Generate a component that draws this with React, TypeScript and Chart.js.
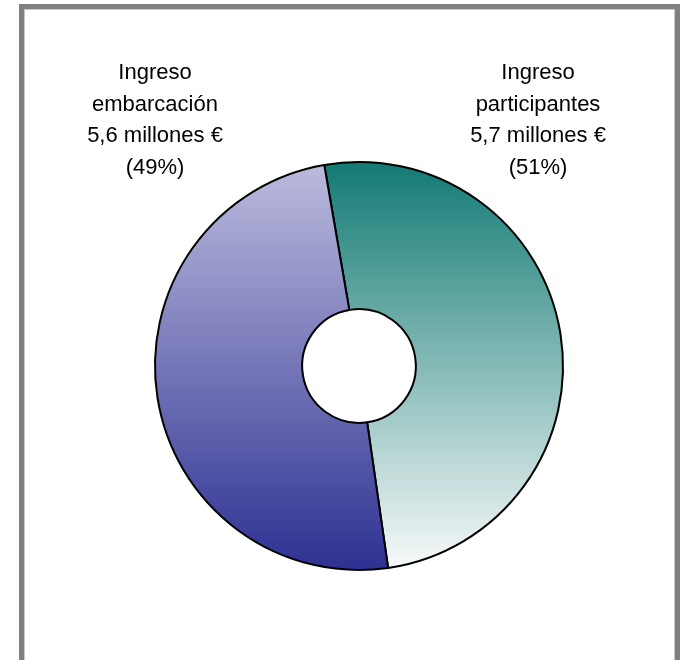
import React, { useEffect, useRef } from "react";
import Chart from "chart.js/auto";

const categories = ["Ingreso participantes", "Ingreso embarcación"];
const values = [5.7, 5.6];
const labelLines = [
  ["Ingreso", "participantes", "5,7 millones €", "(51%)"],
  ["Ingreso", "embarcación", "5,6 millones €", "(49%)"],
];
const gradientStops = [
  ["#137a74", "#f8fafa"],
  ["#bcbcde", "#2e3192"],
];

const OUTER_R = 204;
const INNER_R = 61;
const CANVAS = 440;
const CX = 359;
const CY = 366;

export default function App() {
  const ref = useRef<HTMLCanvasElement | null>(null);

  useEffect(() => {
    if (!ref.current) return;
    const chart = new Chart(ref.current, {
      type: "doughnut",
      data: {
        labels: categories,
        datasets: [
          {
            data: values,
            backgroundColor: (ctx: any) => {
              const c = ctx.chart;
              const ca = c.chartArea;
              const stops = gradientStops[ctx.dataIndex] || gradientStops[0];
              if (!ca) return stops[0];
              const cy = (ca.top + ca.bottom) / 2;
              const g = c.ctx.createLinearGradient(0, cy - OUTER_R, 0, cy + OUTER_R);
              g.addColorStop(0, stops[0]);
              g.addColorStop(1, stops[1]);
              return g;
            },
            borderColor: "#000000",
            borderWidth: 2,
            hoverOffset: 0,
          },
        ],
      },
      options: {
        responsive: false,
        animation: false,
        rotation: -9.8,
        radius: OUTER_R,
        cutout: INNER_R,
        layout: { padding: 0 },
        plugins: {
          legend: { display: false },
          tooltip: { enabled: false },
        },
      },
    });
    return () => chart.destroy();
  }, []);

  const textStyle: React.CSSProperties = {
    position: "absolute",
    width: 220,
    textAlign: "center",
    fontFamily: "'Liberation Sans', Arial, sans-serif",
    fontSize: 22,
    lineHeight: "31.5px",
    color: "#000",
    whiteSpace: "nowrap",
  };

  return (
    <div
      style={{
        position: "absolute",
        left: 0,
        top: 0,
        width: 681,
        height: 660,
        overflow: "hidden",
        background: "#fff",
      }}
    >
      <div
        style={{
          position: "absolute",
          left: 19,
          top: 4,
          width: 661,
          height: 700,
          boxSizing: "border-box",
          border: "5px solid #808080",
          boxShadow: "inset 0 0 0 1px #c8c8c8",
        }}
      />
      <canvas
        ref={ref}
        width={CANVAS}
        height={CANVAS}
        style={{
          position: "absolute",
          left: CX - CANVAS / 2,
          top: CY - CANVAS / 2,
          width: CANVAS,
          height: CANVAS,
        }}
      />
      <div style={{ ...textStyle, left: 538 - 110, top: 56 }}>
        {labelLines[0].map((l, i) => (
          <div key={i}>{l}</div>
        ))}
      </div>
      <div style={{ ...textStyle, left: 155 - 110, top: 56 }}>
        {labelLines[1].map((l, i) => (
          <div key={i}>{l}</div>
        ))}
      </div>
    </div>
  );
}
